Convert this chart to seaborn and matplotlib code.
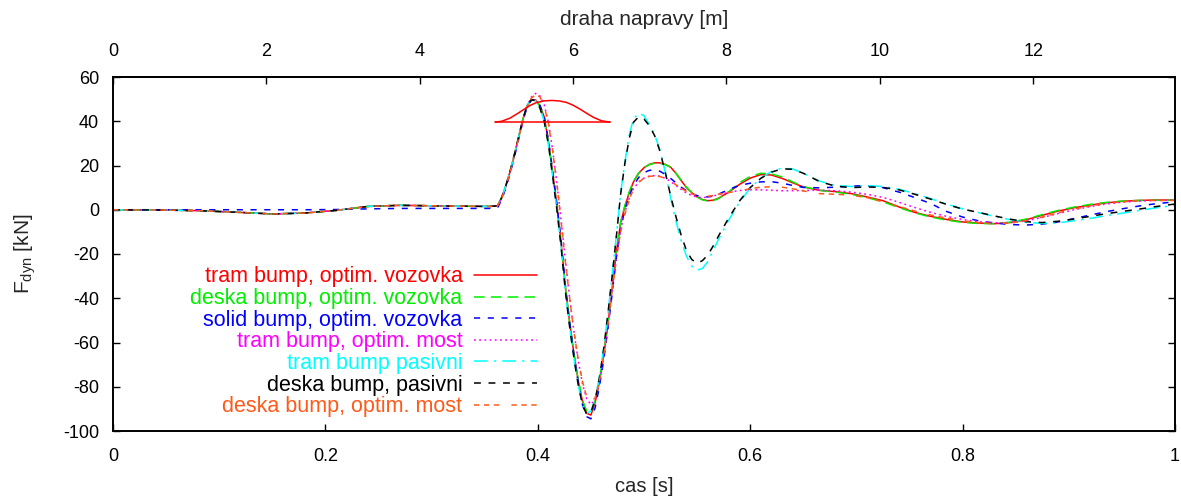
import numpy as np
import pandas as pd
import matplotlib
matplotlib.use("Agg")
import matplotlib.pyplot as plt
from matplotlib.ticker import FuncFormatter
import seaborn as sns

# ---------------- data ----------------
t = [0, 0.04, 0.08, 0.12, 0.15, 0.18, 0.21, 0.24, 0.27, 0.30, 0.33, 0.355,
     0.362, 0.366, 0.370, 0.374, 0.378, 0.382, 0.386, 0.390, 0.394, 0.398,
     0.402, 0.406, 0.410, 0.414, 0.418, 0.422, 0.426, 0.430, 0.434, 0.438,
     0.442, 0.446, 0.450, 0.454, 0.458, 0.462, 0.466, 0.470, 0.474, 0.478,
     0.482, 0.486, 0.490, 0.495, 0.500, 0.505, 0.510, 0.515, 0.520, 0.525,
     0.530, 0.535, 0.540, 0.545, 0.550, 0.555, 0.560, 0.565, 0.570, 0.580,
     0.590, 0.600, 0.610, 0.620, 0.630, 0.640, 0.650, 0.665, 0.680, 0.695,
     0.710, 0.725, 0.740, 0.755, 0.770, 0.785, 0.800, 0.815, 0.830, 0.845,
     0.860, 0.875, 0.890, 0.905, 0.920, 0.935, 0.950, 0.965, 0.980, 1.000]

early = [0, -0.1, -0.4, -1.2, -1.9, -1.5, -0.3, 1.5, 2.0, 1.8, 1.6, 1.5]

tram_opt_vozovka = early + [
    1.8, 5.5, 11, 17.5, 25, 33, 41, 47, 49.8, 49.6,
    47, 42, 31, 17, 2, -15, -35, -51, -65, -77,
    -86.5, -92, -92.8, -87, -78, -66, -52, -36, -19, -6,
    1.5, 7.5, 12.5, 16.5, 19, 20.5, 21.2, 21.2, 20.5, 19.3,
    16.5, 13.2, 10, 7.7, 5.8, 4.6, 4.1, 4.3, 5.2, 8.0,
    11.5, 14.3, 15.9, 15.7, 14.2, 12.2, 10.3, 8.8, 8.2, 7.3,
    5.8, 4.1, 1.3, -1.2, -3.0, -4.4, -5.5, -6.0, -6.3, -5.8,
    -4.5, -2.5, -0.6, 0.9, 2.1, 3.1, 3.8, 4.2, 4.4, 4.4]

deska_opt_vozovka = early + [
    1.8, 5.5, 11, 17.5, 25, 33, 41, 47, 49.7, 49.4,
    46.8, 41.5, 30.5, 16.5, 1.5, -15.5, -35, -51, -65, -76.5,
    -86, -91, -91.5, -86, -77, -65, -51, -35, -18.5, -5.5,
    2, 8, 12.8, 16.6, 19, 20.4, 21, 21, 20.4, 19.2,
    16.6, 13.4, 10.2, 7.8, 5.8, 4.5, 3.9, 4.1, 5.0, 8.2,
    12.3, 15, 16.5, 16.2, 14.8, 12.6, 10.5, 8.8, 8.0, 7.0,
    5.5, 3.6, 1.0, -1.4, -3.3, -4.7, -5.7, -6.2, -6.3, -5.6,
    -4.2, -2.2, -0.3, 1.2, 2.4, 3.3, 3.9, 4.2, 4.3, 4.3]

solid_opt_vozovka = [0, 0, 0, 0, 0, 0, 0.1, 0.4, 0.6, 0.6, 0.6, 0.6] + [
    0.8, 4.5, 10, 16.5, 24, 32, 40, 46.5, 49.6, 49.8,
    47.2, 42.2, 31.5, 17.5, 2.5, -14.5, -34.5, -51, -65.5, -78,
    -88, -93.5, -94.5, -89.5, -80, -68, -54, -38, -21.5, -8.5,
    0, 6, 10.8, 14.6, 16.8, 17.8, 18, 17.4, 16, 14.2,
    12.2, 10.2, 8.6, 7.3, 6.4, 5.9, 5.8, 6.2, 7.0, 9.2,
    11, 12, 12.6, 12.7, 12.0, 11.0, 10.1, 9.9, 10.2, 10.7,
    10.9, 10.0, 8.0, 5.5, 2.8, -0.8, -3.3, -5.0, -6.0, -6.7,
    -6.9, -6.5, -5.5, -4.0, -2.4, -0.9, 0.4, 1.6, 2.6, 3.6]

tram_opt_most = early + [
    1.8, 5.3, 10.5, 17, 24.5, 32.5, 40.5, 47, 51, 52.6,
    51.5, 47.5, 39.5, 27, 12, -5, -23, -40, -55, -68,
    -78.5, -85.5, -88, -86, -78, -66, -52, -36.5, -21, -9,
    -1, 5, 9.5, 12.5, 14.3, 15.2, 15.4, 15.2, 14.2, 12.8,
    11, 9.2, 7.6, 6.4, 5.7, 5.5, 5.7, 6.2, 6.8, 7.9,
    8.7, 9.0, 9.0, 8.8, 8.6, 8.6, 8.7, 8.8, 8.6, 8.0,
    7.0, 5.6, 3.4, 1.0, -1.2, -3.0, -4.4, -5.4, -5.9, -5.8,
    -5.0, -3.5, -1.7, 0, 1.4, 2.6, 3.4, 3.9, 4.2, 4.3]

tram_pasivni = early + [
    1.8, 5.5, 11, 17.5, 25, 33, 41, 47.2, 49.8, 49.2,
    46, 40, 29.5, 15, 0, -17, -37, -53, -67, -79,
    -88, -92, -91, -85.5, -75.5, -62.5, -47, -29.5, -11.5, 7.5,
    21.5, 33.5, 41, 43.7, 42.5, 38.5, 34, 27, 17, 5.5,
    -5, -14, -21, -25.5, -27.3, -26.5, -23.5, -18.5, -13.5, -4.5,
    3.5, 9.8, 14.3, 17.3, 18.8, 18.4, 16.5, 13.0, 11.0, 10.5,
    10.9, 10.5, 9.3, 7.3, 5.0, 2.6, 0.4, -1.3, -3.0, -4.5,
    -5.7, -6.2, -5.9, -5.0, -3.9, -2.7, -1.6, -0.4, 0.7, 2.0]

deska_pasivni = early + [
    1.8, 5.5, 11, 17.5, 25, 33, 41, 47.2, 49.8, 49.2,
    46, 40, 29.5, 15, 0, -17, -37, -53, -67, -79,
    -88, -92.5, -91.5, -86, -76, -63, -47, -30, -12, 7,
    21, 32, 39.5, 42, 41, 38, 33.5, 26.5, 17, 6.5,
    -3, -11.5, -18.5, -22.5, -24.2, -23, -20.5, -16.5, -12, -3.5,
    4, 10, 14.2, 17, 18.5, 18.3, 16.5, 12.8, 10.7, 10.0,
    10.3, 10.1, 9.0, 7.0, 4.8, 2.4, 0.3, -1.2, -2.8, -4.3,
    -5.4, -5.8, -5.2, -4.2, -3.0, -1.8, -0.8, 0.2, 1.3, 2.6]

deska_opt_most = early + [
    1.8, 5.3, 10.5, 17, 24.5, 32.5, 40.5, 46.8, 50.5, 52,
    51, 47, 39, 26.5, 11.5, -5.5, -23.5, -40, -55, -67.5,
    -77.5, -84.5, -87, -85, -77.5, -66, -52, -37, -22, -10,
    -2, 4.5, 9.2, 12.4, 14.3, 15.1, 15.3, 15, 14.2, 12.9,
    11.3, 9.7, 8.3, 7.2, 6.5, 6.1, 6.1, 6.4, 7.0, 7.8,
    8.5, 9.5, 10.2, 10.4, 10.2, 9.5, 8.5, 7.3, 7.0, 6.6,
    5.5, 3.6, 1.5, -0.6, -2.4, -3.8, -5.0, -5.8, -6.2, -6.0,
    -5.0, -3.3, -1.4, 0.3, 1.7, 2.8, 3.6, 4.0, 4.2, 4.2]

# bump sketch
bump_t = [0.360, 0.366, 0.3738, 0.380, 0.3864, 0.393, 0.399, 0.406, 0.413,
          0.420, 0.427, 0.433, 0.4397, 0.446, 0.4523, 0.460, 0.468]
bump_y = [39.6, 40.0, 41.4, 43.2, 45.2, 47.2, 48.5, 49.2, 49.4,
          49.2, 48.5, 47.3, 45.5, 43.6, 41.8, 40.2, 39.6]
bump_base_t = [0.360, 0.468]
bump_base_y = [39.6, 39.6]

labels = ["tram bump, optim. vozovka", "deska bump, optim. vozovka",
          "solid bump, optim. vozovka", "tram bump, optim. most",
          "tram bump pasivni", "deska bump, pasivni", "deska bump, optim. most"]
series = [tram_opt_vozovka, deska_opt_vozovka, solid_opt_vozovka, tram_opt_most,
          tram_pasivni, deska_pasivni, deska_opt_most]
colors = ["#ff0000", "#00ee00", "#0000ff", "#ff00ff", "#00ffff", "#000000", "#ff5a1a"]
styles = ["-", (0, (7, 4)), (0, (4, 5)), (0, (1.2, 2.2)), (0, (9, 4, 1.5, 4)),
          (0, (4.5, 5)), (0, (3.5, 3, 3.5, 3, 3.5, 8))]

x_ticks = [0, 0.2, 0.4, 0.6, 0.8, 1]
y_ticks = [-100, -80, -60, -40, -20, 0, 20, 40, 60]
top_ticks = [0, 2, 4, 6, 8, 10, 12]
speed = 13.85  # m/s, relation of time to axle path

# ---------------- style ----------------
sns.set_style("white")
plt.rcParams["font.family"] = ["Liberation Sans", "DejaVu Sans"]
plt.rcParams["mathtext.fontset"] = "custom"
plt.rcParams["mathtext.rm"] = "Liberation Sans"
plt.rcParams["mathtext.it"] = "Liberation Sans"
plt.rcParams["axes.unicode_minus"] = False
plt.rcParams["font.size"] = 13

fig = plt.figure(figsize=(11.81, 4.97), dpi=100)
ax = fig.add_axes([113 / 1181, 1 - 431 / 497, (1175 - 113) / 1181, (431 - 77) / 497])

handles = []
for lab, vals, col, ls in zip(labels, series, colors, styles):
    df = pd.DataFrame({"t": t, "F": vals})
    sns.lineplot(data=df, x="t", y="F", ax=ax, color=col, linestyle=ls,
                 linewidth=1.1, estimator=None, sort=False, label=lab, legend=False)
    handles.append(ax.lines[-1])

sns.lineplot(x=bump_t, y=bump_y, ax=ax, color="#ff0000", linewidth=1.1,
             estimator=None, sort=False, legend=False)
sns.lineplot(x=bump_base_t, y=bump_base_y, ax=ax, color="#ff0000", linewidth=1.1,
             estimator=None, sort=False, legend=False)

ax.set_xlim(0, 1)
ax.set_ylim(-100, 60)
ax.set_xticks(x_ticks)
ax.set_yticks(y_ticks)
ax.xaxis.set_major_formatter(FuncFormatter(lambda v, p: "%g" % v))
ax.yaxis.set_major_formatter(FuncFormatter(lambda v, p: "%g" % v))
ax.tick_params(axis="x", direction="in", length=5, width=1, pad=12, top=False, bottom=True,
               labelsize=13, colors="black")
ax.tick_params(axis="y", direction="in", length=5, width=1, pad=10, left=True, right=True,
               labelsize=13, colors="black")
for s in ax.spines.values():
    s.set_color("black")
    s.set_linewidth(1.4)
ax.set_xlabel("cas [s]", fontsize=14.5, labelpad=9)
ax.set_ylabel(r"F$_{\mathrm{dyn}}$ [kN]", fontsize=15, labelpad=18)

ax2 = ax.secondary_xaxis("top", functions=(lambda x: x * speed, lambda d: d / speed))
ax2.set_xticks(top_ticks)
ax2.tick_params(direction="in", length=5, width=1, pad=12, labelsize=13, colors="black")
ax2.spines["top"].set_linewidth(1.4)
ax2.set_xlabel("draha napravy [m]", fontsize=15, labelpad=13)

leg = ax.legend(handles, labels, loc="upper right", bbox_to_anchor=(0.399, 0.465),
                markerfirst=False, labelcolor="linecolor", frameon=False,
                handlelength=2.9, handletextpad=0.55, labelspacing=0.03,
                borderpad=0, borderaxespad=0, fontsize=15.5)

fig.savefig("out.png", dpi=100)
